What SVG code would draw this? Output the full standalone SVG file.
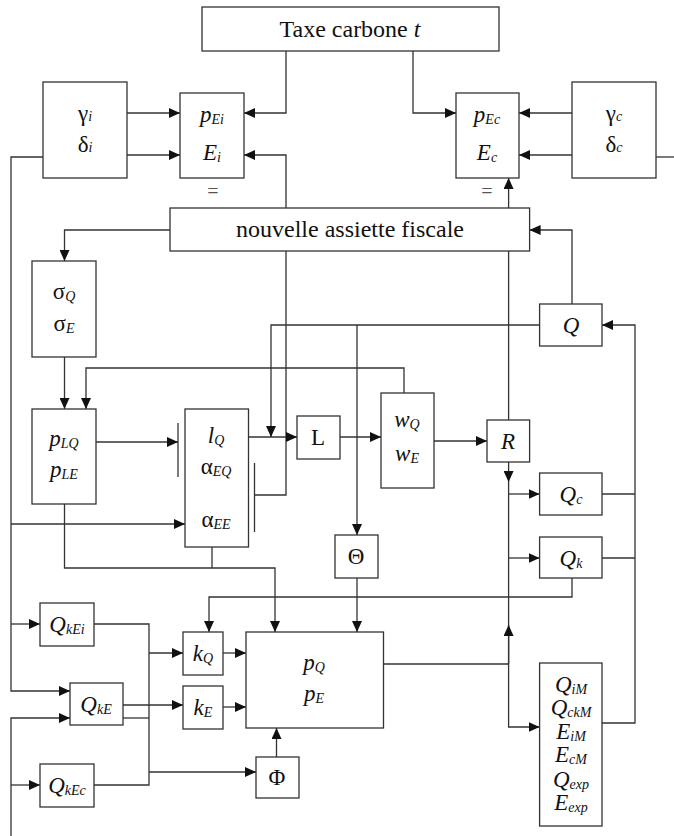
<svg xmlns="http://www.w3.org/2000/svg" width="674" height="836" viewBox="0 0 674 836">
<defs>
<marker id="ah" markerUnits="userSpaceOnUse" markerWidth="11" markerHeight="10" refX="11" refY="5" orient="auto"><path d="M0,0 L11,5 L0,10 z" fill="#111"/></marker>
<style>
.n rect{fill:#fff;stroke:#333;stroke-width:1.3}
.c path{fill:none;stroke:#333;stroke-width:1.3}
.a{marker-end:url(#ah)}
text{font-family:"Liberation Serif","Times New Roman",serif;fill:#111;text-anchor:middle}
.t{font-size:24px}
.l{font-size:23px}
.i{font-style:italic}
.s{font-size:14px;font-style:italic}
.eq{font-size:20px;fill:#555}
</style>
</defs>
<rect width="674" height="836" fill="#fff"/>
<g id="connectors" class="c">
<path class="a" d="M286,51 V113 H244"/>
<path class="a" d="M413,51 V113 H456"/>
<path class="a" d="M127,113 H180"/>
<path class="a" d="M127,155 H180"/>
<path class="a" d="M572,113 H519"/>
<path class="a" d="M572,155 H519"/>
<path d="M656,157 H674"/>
<path class="a" d="M43,157 H11 V691 H70"/>
<path class="a" d="M11,524 H185"/>
<path class="a" d="M11,624 H40"/>
<path class="a" d="M11,836 V718 H70"/>
<path class="a" d="M11,785 H40"/>
<path class="a" d="M254.5,495 H286 V155 H244"/>
<path d="M178,423 V477"/>
<path d="M254.5,463 V532"/>
<path class="a" d="M96,442 H178"/>
<path class="a" d="M170,230 H64.5 V261"/>
<path class="a" d="M64.5,357 V409"/>
<path class="a" d="M404,393 V368 H86 V409"/>
<path class="a" d="M248.5,437 H297"/>
<path class="a" d="M539.6,325 H271 V437"/>
<path class="a" d="M357,325 V535"/>
<path class="a" d="M340,437 H381"/>
<path class="a" d="M434,441 H487"/>
<path class="a" d="M508.6,420 V178"/>
<path class="a" d="M572,304 V230 H529.6"/>
<path class="a" d="M602,723 H635 V325 H602"/>
<path d="M602,494 H635"/>
<path d="M602,558 H635"/>
<path class="a" d="M508.6,462 V482"/>
<path class="a" d="M508.6,482 V727 H539.6"/>
<path class="a" d="M508.6,494 H539.6"/>
<path class="a" d="M508.6,558 H539.6"/>
<path d="M383.5,664 H508.6"/>
<path class="a" d="M508.6,664 V625"/>
<path class="a" d="M64.5,504 V568 H275 V632"/>
<path d="M212,547 V568"/>
<path class="a" d="M357,578 V632"/>
<path class="a" d="M572,578 V597 H209 V632"/>
<path d="M94,624 H149 V785 H94"/>
<path class="a" d="M149,653 H183"/>
<path d="M123,718 H149"/>
<path class="a" d="M149,772 H256"/>
<path class="a" d="M123,705 H183"/>
<path class="a" d="M223,653 H246"/>
<path class="a" d="M223,707 H246"/>
<path class="a" d="M276.5,757 V728"/>
</g>
<g id="taxe" class="n"><rect x="202" y="7" width="297" height="44"/><text class="t" x="350" y="37">Taxe carbone <tspan class="i">t</tspan></text></g>
<g id="gi" class="n"><rect x="43" y="82" width="84" height="96"/><text class="l" x="85" y="121">γ<tspan class="s">i</tspan></text><text class="l" x="85" y="152">δ<tspan class="s">i</tspan></text></g>
<g id="pEi" class="n"><rect x="180" y="93" width="64" height="85"/><text class="l i" x="212" y="122">p<tspan class="s" dy="2">Ei</tspan></text><text class="l i" x="212" y="160">E<tspan class="s" dy="2">i</tspan></text><text class="eq" x="213" y="198">=</text></g>
<g id="pEc" class="n"><rect x="456" y="93" width="63" height="85"/><text class="l i" x="487" y="122">p<tspan class="s" dy="2">Ec</tspan></text><text class="l i" x="487" y="160">E<tspan class="s" dy="2">c</tspan></text><text class="eq" x="487" y="198">=</text></g>
<g id="gc" class="n"><rect x="572" y="82" width="84" height="96"/><text class="l" x="614" y="121">γ<tspan class="s">c</tspan></text><text class="l" x="614" y="152">δ<tspan class="s">c</tspan></text></g>
<g id="assiette" class="n"><rect x="170" y="208" width="359.6" height="43"/><text class="t" x="350" y="237">nouvelle assiette fiscale</text></g>
<g id="sigma" class="n"><rect x="32" y="261" width="64" height="96"/><text class="l" x="64" y="299">σ<tspan class="s" dy="2">Q</tspan></text><text class="l" x="64" y="331">σ<tspan class="s" dy="2">E</tspan></text></g>
<g id="Q" class="n"><rect x="539.6" y="304" width="62.4" height="42"/><text class="l i" x="571" y="333">Q</text></g>
<g id="pL" class="n"><rect x="32" y="409" width="64" height="95"/><text class="l i" x="64" y="446">p<tspan class="s" dy="2">LQ</tspan></text><text class="l i" x="64" y="477">p<tspan class="s" dy="2">LE</tspan></text></g>
<g id="lQ" class="n"><rect x="185" y="409" width="63.5" height="138"/><text class="l i" x="216" y="443">l<tspan class="s" dy="2">Q</tspan></text><text class="l" x="216" y="474">α<tspan class="s" dy="2">EQ</tspan></text><text class="l" x="216" y="527">α<tspan class="s" dy="2">EE</tspan></text></g>
<g id="L" class="n"><rect x="297" y="416" width="43" height="43"/><text class="l" x="318" y="445">L</text></g>
<g id="w" class="n"><rect x="381" y="393" width="53" height="95"/><text class="l i" x="407" y="427">w<tspan class="s" dy="2">Q</tspan></text><text class="l i" x="407" y="461">w<tspan class="s" dy="2">E</tspan></text></g>
<g id="R" class="n"><rect x="487" y="420" width="42.6" height="42"/><text class="l i" x="508" y="449">R</text></g>
<g id="Qc" class="n"><rect x="539.6" y="473" width="62.4" height="42"/><text class="l i" x="571" y="502">Q<tspan class="s" dy="2">c</tspan></text></g>
<g id="Qk" class="n"><rect x="539.6" y="537" width="62.4" height="41"/><text class="l i" x="571" y="566">Q<tspan class="s" dy="2">k</tspan></text></g>
<g id="Theta" class="n"><rect x="335" y="535" width="43" height="43"/><text class="l" x="356" y="564">Θ</text></g>
<g id="QkEi" class="n"><rect x="40" y="603" width="54" height="43"/><text class="l i" x="67" y="632">Q<tspan class="s" dy="2">kEi</tspan></text></g>
<g id="kQ" class="n"><rect x="183" y="632" width="40" height="43"/><text class="l i" x="203" y="661">k<tspan class="s" dy="2">Q</tspan></text></g>
<g id="pQ" class="n"><rect x="246" y="632" width="137.5" height="96"/><text class="l i" x="314" y="670">p<tspan class="s" dy="2">Q</tspan></text><text class="l i" x="314" y="701">p<tspan class="s" dy="2">E</tspan></text></g>
<g id="QkE" class="n"><rect x="70" y="683" width="53" height="42"/><text class="l i" x="96" y="712">Q<tspan class="s" dy="2">kE</tspan></text></g>
<g id="kE" class="n"><rect x="183" y="686" width="40" height="43"/><text class="l i" x="203" y="715">k<tspan class="s" dy="2">E</tspan></text></g>
<g id="Phi" class="n"><rect x="256" y="757" width="43" height="41"/><text class="l" x="277" y="785">Φ</text></g>
<g id="QkEc" class="n"><rect x="40" y="764" width="54" height="43"/><text class="l i" x="67" y="793">Q<tspan class="s" dy="2">kEc</tspan></text></g>
<g id="QiM" class="n"><rect x="539.6" y="663" width="62.4" height="163"/>
<text class="l i" x="571" y="692">Q<tspan class="s" dy="2">iM</tspan></text>
<text class="l i" x="571" y="715">Q<tspan class="s" dy="2">ckM</tspan></text>
<text class="l i" x="571" y="739">E<tspan class="s" dy="2">iM</tspan></text>
<text class="l i" x="571" y="762">E<tspan class="s" dy="2">cM</tspan></text>
<text class="l i" x="571" y="787">Q<tspan class="s" dy="2">exp</tspan></text>
<text class="l i" x="571" y="810">E<tspan class="s" dy="2">exp</tspan></text></g>
</svg>
